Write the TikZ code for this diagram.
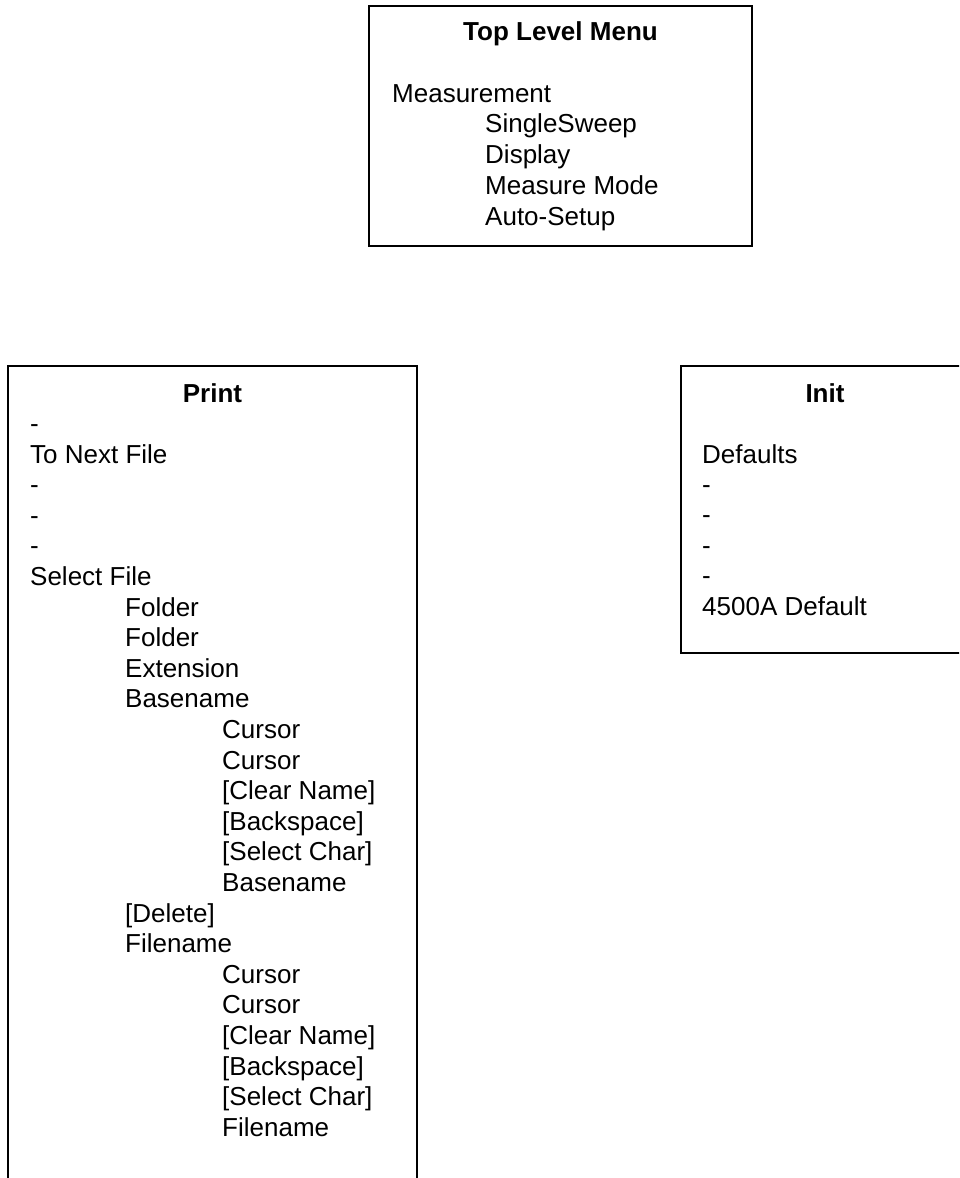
\documentclass[tikz,border=0pt]{standalone}
\usepackage{fontspec}
\setmainfont{Liberation Sans}
\begin{document}
\begin{tikzpicture}[x=1pt,y=-1pt,
  box/.style={draw=black,line width=1.6pt},
  item/.style={anchor=base west,inner sep=0pt,font=\fontsize{26}{30}\selectfont},
  ttl/.style={anchor=base,inner sep=0pt,font=\fontsize{26}{30}\selectfont\bfseries}]
\useasboundingbox (0,0) rectangle (959,1178);
\clip (0,0) rectangle (959,1178);
% Top Level Menu box
\draw[box] (369,6) rectangle (752,246);
\node[ttl] (toptitle) at (560.5,40) {Top Level Menu};
\node[item] (meas) at (392,102) {Measurement};
\foreach \t [count=\i] in {SingleSweep,Display,Measure Mode,Auto-Setup}
  \node[item] (top\i) at (485,102+\i*30.8) {\t};
% Print box
\draw[box] (8,1200) -- (8,366) -- (417,366) -- (417,1200);
\node[ttl] (printtitle) at (212.5,402) {Print};
\foreach \t/\x [count=\i from 0] in {-/30,To Next File/30,-/30,-/30,-/30,Select File/30,
  Folder/125,Folder/125,Extension/125,Basename/125,
  Cursor/222,Cursor/222,[Clear Name]/222,[Backspace]/222,[Select Char]/222,Basename/222,
  [Delete]/125,Filename/125,
  Cursor/222,Cursor/222,[Clear Name]/222,[Backspace]/222,[Select Char]/222,Filename/222}
  \node[item] (p\i) at (\x,432.5+\i*30.6) {\t};
% Init box
\draw[box] (1000,366) -- (681,366) -- (681,653) -- (1000,653);
\node[ttl] (inittitle) at (825,402) {Init};
\foreach \t [count=\i from 0] in {Defaults,-,-,-,-,4500A Default}
  \node[item] (i\i) at (702,463+\i*30.4) {\t};
\end{tikzpicture}
\end{document}
